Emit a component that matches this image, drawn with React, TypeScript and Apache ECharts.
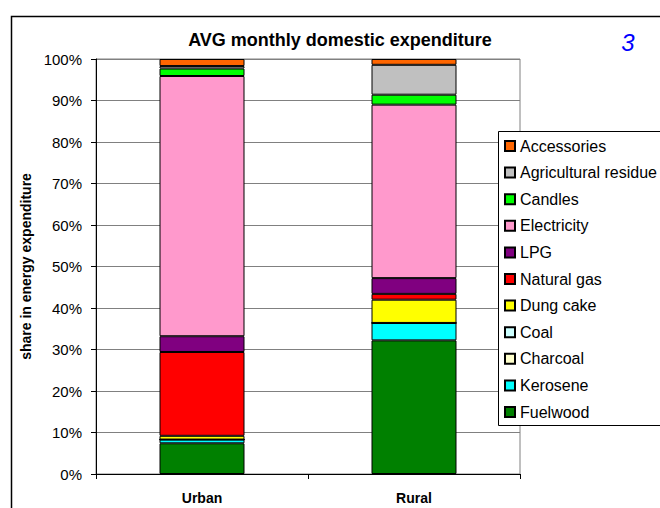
import React, { useEffect, useRef } from "react";
import * as echarts from "echarts";

const categories = ["Urban", "Rural"];
const seriesNames = [
  "Fuelwood",
  "Kerosene",
  "Charcoal",
  "Coal",
  "Dung cake",
  "Natural gas",
  "LPG",
  "Electricity",
  "Candles",
  "Agricultural residue",
  "Accessories",
];
const fuelwood = [7.4, 32.2];
const kerosene = [0.9, 4.2];
const charcoal = [0, 0];
const coal = [0, 0];
const dungCake = [0.9, 5.6];
const naturalGas = [20.2, 1.4];
const lpg = [3.8, 3.8];
const electricity = [62.7, 41.8];
const candles = [1.8, 2.4];
const agriculturalResidue = [0.6, 7.2];
const accessories = [1.7, 1.4];
const seriesValues = [
  fuelwood,
  kerosene,
  charcoal,
  coal,
  dungCake,
  naturalGas,
  lpg,
  electricity,
  candles,
  agriculturalResidue,
  accessories,
];
const colors = [
  "#008000",
  "#00FFFF",
  "#FFFFCC",
  "#CCFFFF",
  "#FFFF00",
  "#FF0000",
  "#800080",
  "#FF99CC",
  "#00FF00",
  "#C0C0C0",
  "#FF6600",
];

const FONT = "'Liberation Sans', Arial, sans-serif";

export default function App() {
  const ref = useRef<HTMLDivElement>(null);
  useEffect(() => {
    if (!ref.current) return;
    const chart = echarts.init(ref.current, undefined, { renderer: "svg" });
    chart.setOption({
      animation: false,
      backgroundColor: "#ffffff",
      textStyle: { fontFamily: FONT },
      grid: {
        left: 96,
        right: 140,
        top: 59,
        bottom: 34,
        show: true,
        borderColor: "#808080",
        borderWidth: 1,
        backgroundColor: "#ffffff",
      },
      legend: {
        orient: "vertical",
        left: 504,
        top: 138,
        padding: 0,
        icon: "rect",
        itemWidth: 10,
        itemHeight: 10,
        itemGap: 10.6,
        data: [...seriesNames].reverse(),
        textStyle: { fontSize: 16, color: "#000", fontFamily: FONT, lineHeight: 16 },
      },
      xAxis: {
        type: "category",
        data: categories,
        axisLine: { lineStyle: { color: "#000", width: 1 } },
        axisTick: { show: true, length: 5, alignWithLabel: false, lineStyle: { color: "#000" } },
        axisLabel: { fontSize: 14, fontWeight: "bold", color: "#000", margin: 17, fontFamily: FONT },
        splitLine: { show: false },
      },
      yAxis: {
        type: "value",
        min: 0,
        max: 100,
        interval: 10,
        name: "share in energy expenditure",
        nameLocation: "middle",
        nameGap: 62,
        nameTextStyle: { fontSize: 14, fontWeight: "bold", color: "#000", fontFamily: FONT },
        axisLine: { show: true, lineStyle: { color: "#000", width: 1 } },
        axisTick: { show: true, length: 5, inside: false, lineStyle: { color: "#000" } },
        axisLabel: { fontSize: 15, color: "#000", margin: 14, formatter: "{value}%", fontFamily: FONT },
        splitLine: { show: true, lineStyle: { color: "#808080", width: 1 } },
      },
      graphic: [
        {
          type: "rect",
          z: 10,
          silent: true,
          shape: { x: 11.5, y: 16.5, width: 700, height: 600 },
          style: { fill: "none", stroke: "#000", lineWidth: 1.5 },
        },
        {
          type: "rect",
          z: 3,
          silent: true,
          shape: { x: 498.5, y: 131.5, width: 200, height: 294 },
          style: { fill: "#fff", stroke: "#000", lineWidth: 1 },
        },
        {
          type: "text",
          z: 10,
          x: 340,
          y: 40,
          style: {
            text: "AVG monthly domestic expenditure",
            fontSize: 18,
            fontWeight: "bold",
            fill: "#000",
            fontFamily: FONT,
            align: "center",
            verticalAlign: "middle",
          },
        },
        {
          type: "text",
          z: 10,
          x: 628,
          y: 42,
          style: {
            text: "3",
            fontSize: 24,
            fontStyle: "italic",
            fill: "#0000FF",
            fontFamily: FONT,
            align: "center",
            verticalAlign: "middle",
          },
        },
      ],
      series: seriesNames.map((name, i) => ({
        name,
        type: "bar",
        stack: "total",
        barWidth: 85,
        data: seriesValues[i],
        itemStyle: { color: colors[i], borderColor: "#000", borderWidth: 1 },
      })),
    });
    return () => chart.dispose();
  }, []);
  return (
    <div
      ref={ref}
      style={{ position: "fixed", left: 0, top: 0, width: 660, height: 508 }}
    />
  );
}
